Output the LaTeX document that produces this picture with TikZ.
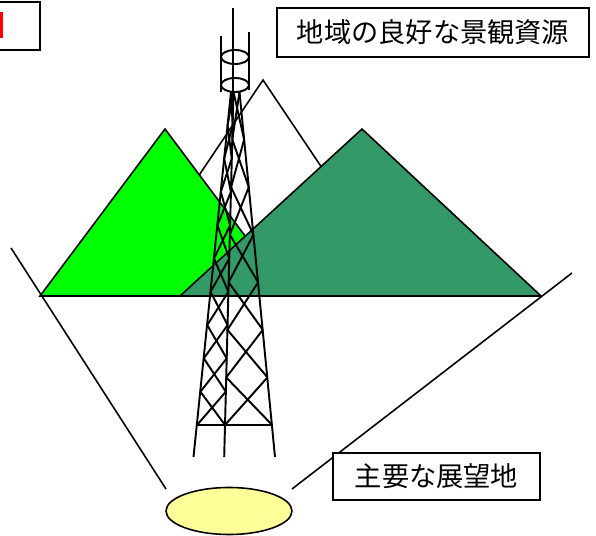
\documentclass[tikz,border=0pt]{standalone}
\usepackage{fontspec}
\newfontfamily\jpfont{Noto Sans CJK JP}
\usepackage{xcolor}
\definecolor{LeafGreen}{RGB}{0,255,0}
\definecolor{SeaGreen}{RGB}{51,153,102}
\definecolor{PaleYellow}{RGB}{255,255,153}
\usetikzlibrary{positioning,shapes.geometric,calc}

\begin{document}
\begin{tikzpicture}[x=0.02cm, y=-0.02cm,
    tag/.style={rectangle, draw=black, line width=0.9pt, fill=white, inner sep=0pt,
              font=\jpfont\fontsize{15.5}{18}\selectfont},
    hill/.style={draw=black, line width=0.9pt, line join=miter},
    sight/.style={draw=black, line width=0.9pt},
    lattice/.style={draw=black, line width=1.1pt},
    spot/.style={ellipse, draw=black, line width=0.9pt, fill=PaleYellow, inner sep=0pt}
]
    \clip (0,0) rectangle (596,536);

    % mountains
    \filldraw[hill, fill=white] (118,296) -- (263,80) -- (408,296) -- cycle;
    \filldraw[hill, fill=LeafGreen] (40,296) -- (165,129) -- (290,296) -- cycle;
    \filldraw[hill, fill=SeaGreen] (180,296) -- (362,129) -- (541,296) -- cycle;
    \draw[line width=1.3pt] (40,296) -- (541,296);

    % lines of sight
    \coordinate (vl) at (11,248);
    \coordinate (vlend) at (166,489);
    \coordinate (vr) at (572,273);
    \coordinate (vrend) at (292,489);
    \draw[sight] (vl) -- (vlend);
    \draw[sight] (vr) -- (vrend);

    % tower: legs
    \coordinate (lt) at (231,92);   \coordinate (lb) at (193.5,457);
    \coordinate (mt) at (233.5,92); \coordinate (mb) at (224.2,457);
    \coordinate (rt) at (239.5,92); \coordinate (rb) at (275,457);
    \draw[lattice] (lt) -- (lb);
    \draw[lattice] (mt) -- (mb);
    \draw[lattice] (rt) -- (rb);
    \draw[lattice] ($(lt)!0.9123!(lb)$) -- ($(rt)!0.9123!(rb)$);

    % tower: bracing, left face
    \foreach \i in {0,...,9} {
        \pgfmathsetmacro\ya{92+33.3*\i}
        \pgfmathsetmacro\yb{92+33.3*(\i+1)}
        \draw[lattice] ({231-0.102*(\ya-92)},\ya) -- ({233.5-0.0255*(\yb-92)},\yb);
        \draw[lattice] ({233.5-0.0255*(\ya-92)},\ya) -- ({231-0.102*(\yb-92)},\yb);
    }
    % tower: bracing, right face
    \foreach \i in {0,...,6} {
        \pgfmathsetmacro\ya{92+47.57*\i}
        \pgfmathsetmacro\yb{92+47.57*(\i+1)}
        \draw[lattice] ({233.5-0.0255*(\ya-92)},\ya) -- ({239.5+0.098*(\yb-92)},\yb);
        \draw[lattice] ({239.5+0.098*(\ya-92)},\ya) -- ({233.5-0.0255*(\yb-92)},\yb);
    }

    % tower: mast and antenna drum
    \coordinate (masttop) at (233,8);
    \draw[lattice] (masttop) -- (233,92);
    \draw[lattice] (221,36) -- (221,92);
    \draw[lattice] (249,32) -- (249,90);
    \draw[lattice] (235,57) ellipse [x radius=14, y radius=7];
    \draw[lattice] (235,85) ellipse [x radius=14, y radius=7];

    % labels
    \node[tag, minimum width=6.24cm, minimum height=0.98cm] (res) at (433,32.5) {地域の良好な景観資源};
    \node[tag, minimum width=4.14cm, minimum height=0.94cm] (view) at (436.5,476.5) {主要な展望地};
    \node[spot, minimum width=2.52cm, minimum height=0.94cm] (place) at (229,511) {};

    % cut-off box at the corner
    \draw[line width=1.1pt] (-30,2) rectangle (40,50);
    \fill[red] (0,12) rectangle (3,38);
\end{tikzpicture}
\end{document}
